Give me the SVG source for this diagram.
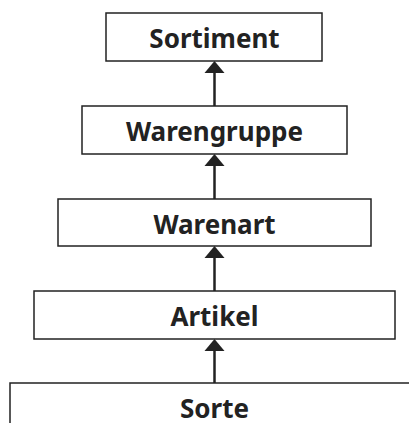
<svg xmlns="http://www.w3.org/2000/svg" width="409" height="423" viewBox="0 0 409 423">
<defs>
<style>
.box{fill:#fff;stroke:#222;stroke-width:1.5}
.lbl{font-family:"Noto Sans","Open Sans",sans-serif;font-weight:bold;font-size:26px;fill:#222;text-anchor:middle}
.con{stroke:#222;stroke-width:2.5;fill:none}
.head{fill:#222}
</style>
</defs>
<rect width="409" height="423" fill="#fff"/>
<g id="connectors">
<line class="con" x1="214.5" y1="106" x2="214.5" y2="70"/>
<polygon class="head" points="214.5,61 204.5,73 224.5,73"/>
<line class="con" x1="214.5" y1="199" x2="214.5" y2="163"/>
<polygon class="head" points="214.5,154 204.5,166 224.5,166"/>
<line class="con" x1="214.5" y1="291" x2="214.5" y2="255"/>
<polygon class="head" points="214.5,246 204.5,258 224.5,258"/>
<line class="con" x1="214.5" y1="383" x2="214.5" y2="348"/>
<polygon class="head" points="214.5,339 204.5,351 224.5,351"/>
</g>
<g id="sortiment"><rect class="box" x="106" y="13" width="216" height="48"/><text class="lbl" x="214.5" y="48">Sortiment</text></g>
<g id="warengruppe"><rect class="box" x="82" y="106" width="265" height="48"/><text class="lbl" x="214.5" y="141">Warengruppe</text></g>
<g id="warenart"><rect class="box" x="58" y="199" width="313" height="47"/><text class="lbl" x="214.5" y="234">Warenart</text></g>
<g id="artikel"><rect class="box" x="34" y="291" width="361" height="48"/><text class="lbl" x="214.5" y="326">Artikel</text></g>
<g id="sorte"><rect class="box" x="10" y="383" width="420" height="60"/><text class="lbl" x="214.5" y="418">Sorte</text></g>
</svg>
